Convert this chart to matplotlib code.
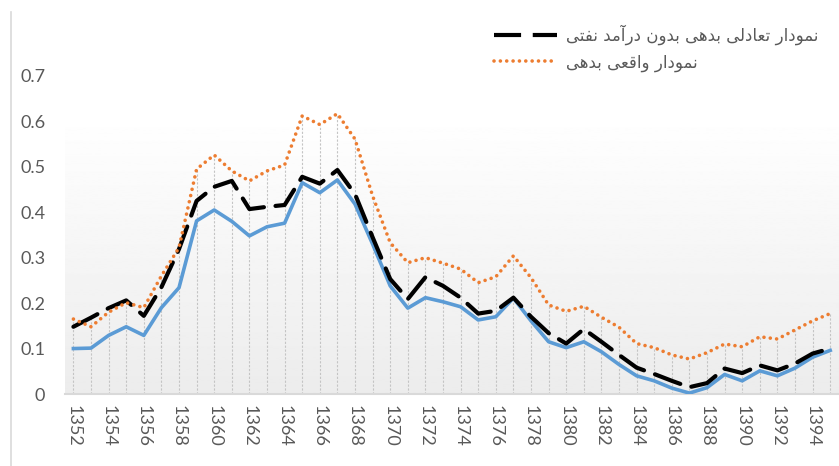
"""Debt ratio chart: actual vs. equilibrium debt without oil revenue."""

import matplotlib

matplotlib.use("Agg")
import matplotlib.pyplot as plt
import numpy as np
from matplotlib.lines import Line2D

years = list(range(1352, 1396))
tick_years = years[::2]

# unlabeled blue series
base_debt = [
    0.100, 0.101, 0.129, 0.148, 0.129, 0.190, 0.234, 0.381, 0.405, 0.380,
    0.348, 0.368, 0.376, 0.465, 0.443, 0.471, 0.418, 0.330, 0.238, 0.189,
    0.212, 0.203, 0.192, 0.163, 0.170, 0.211, 0.161, 0.115, 0.102, 0.115,
    0.093, 0.065, 0.040, 0.029, 0.013, 0.002, 0.014, 0.043, 0.029, 0.051,
    0.040, 0.057, 0.081, 0.096,
]
equilibrium_debt = [
    0.148, 0.168, 0.189, 0.206, 0.172, 0.235, 0.319, 0.425, 0.456, 0.469,
    0.407, 0.412, 0.416, 0.478, 0.463, 0.493, 0.440, 0.345, 0.253, 0.209,
    0.257, 0.238, 0.212, 0.177, 0.183, 0.212, 0.170, 0.134, 0.111, 0.143,
    0.115, 0.086, 0.058, 0.044, 0.029, 0.015, 0.024, 0.056, 0.046, 0.063,
    0.052, 0.067, 0.089, 0.100,
]
actual_debt = [
    0.165, 0.148, 0.180, 0.201, 0.190, 0.260, 0.322, 0.495, 0.526, 0.491,
    0.469, 0.491, 0.504, 0.612, 0.593, 0.617, 0.561, 0.436, 0.333, 0.289,
    0.300, 0.288, 0.275, 0.245, 0.258, 0.304, 0.256, 0.196, 0.182, 0.193,
    0.169, 0.147, 0.111, 0.102, 0.086, 0.077, 0.091, 0.110, 0.104, 0.126,
    0.121, 0.141, 0.161, 0.177,
]

label_equilibrium = "نمودار تعادلی بدهی بدون درآمد نفتی"
label_actual = "نمودار واقعی بدهی"

# Arabic presentation forms: (isolated, final, initial, medial)
FORMS = {
    "\u0622": ("\uFE81", "\uFE82", None, None),
    "\u0627": ("\uFE8D", "\uFE8E", None, None),
    "\u0628": ("\uFE8F", "\uFE90", "\uFE91", "\uFE92"),
    "\u062A": ("\uFE95", "\uFE96", "\uFE97", "\uFE98"),
    "\u062F": ("\uFEA9", "\uFEAA", None, None),
    "\u0631": ("\uFEAD", "\uFEAE", None, None),
    "\u0639": ("\uFEC9", "\uFECA", "\uFECB", "\uFECC"),
    "\u0641": ("\uFED1", "\uFED2", "\uFED3", "\uFED4"),
    "\u0642": ("\uFED5", "\uFED6", "\uFED7", "\uFED8"),
    "\u0644": ("\uFEDD", "\uFEDE", "\uFEDF", "\uFEE0"),
    "\u0645": ("\uFEE1", "\uFEE2", "\uFEE3", "\uFEE4"),
    "\u0646": ("\uFEE5", "\uFEE6", "\uFEE7", "\uFEE8"),
    "\u0647": ("\uFEE9", "\uFEEA", "\uFEEB", "\uFEEC"),
    "\u0648": ("\uFEED", "\uFEEE", None, None),
    "\u06CC": ("\uFBFC", "\uFBFD", "\uFBFE", "\uFBFF"),
}


def shape_rtl(text: str) -> str:
    """Join Persian letters into contextual forms and reverse for LTR drawing."""
    out = []
    for i, ch in enumerate(text):
        if ch not in FORMS:
            out.append(ch)
            continue
        iso, fin, ini, med = FORMS[ch]
        prev = text[i - 1] if i > 0 else ""
        nxt = text[i + 1] if i + 1 < len(text) else ""
        join_prev = prev in FORMS and FORMS[prev][2] is not None
        join_next = ini is not None and nxt in FORMS
        if join_prev and join_next:
            out.append(med)
        elif join_prev:
            out.append(fin)
        elif join_next:
            out.append(ini)
        else:
            out.append(iso)
    return "".join(reversed(out))


fig = plt.figure(figsize=(8.39, 4.66), dpi=100)
ax = fig.add_axes([0.077, 0.1545, 0.923, 0.6825])

# plot-area gradient, white at top to light gray at the axis
grad = np.linspace(1.0, 0.925, 256).reshape(-1, 1)
ax.imshow(
    grad, cmap="gray", vmin=0, vmax=1, aspect="auto",
    extent=[years[0] - 0.5, years[-1] + 0.5, 0, 0.62], zorder=0,
)

tops = np.max([base_debt, equilibrium_debt, actual_debt], axis=0)
ax.vlines(years, 0, tops, color="#c4c4c4", lw=0.8,
          linestyles=(0, (2, 1.5)), zorder=1)

ax.plot(years, base_debt, color="#5B9BD5", lw=2.6, zorder=3)
ax.plot(years, equilibrium_debt, color="black", lw=3.0,
        dashes=(6.5, 2.8), solid_capstyle="round", dash_capstyle="round",
        zorder=4)
ax.plot(years, actual_debt, color="#ED7D31", lw=2.6,
        dashes=(0.01, 1.75), dash_capstyle="round", zorder=5)

ax.set_xlim(years[0] - 0.5, years[-1] + 0.5)
ax.set_ylim(0, 0.7)
ax.set_xticks(tick_years)
ax.set_xticklabels([str(y) for y in tick_years], rotation=-90,
                   fontsize=13, color="#595959", family="Lato")
ax.set_yticks(np.arange(0, 0.71, 0.1))
ax.set_yticklabels(["0"] + [f"{v:.1f}" for v in np.arange(0.1, 0.71, 0.1)],
                   fontsize=13, color="#595959", family="Lato")
ax.tick_params(axis="both", length=0, pad=8)
ax.tick_params(axis="y", pad=14)
for side in ("left", "right", "top"):
    ax.spines[side].set_visible(False)
ax.spines["bottom"].set_color("#d9d9d9")
ax.spines["bottom"].set_linewidth(1.5)

handles = [
    Line2D([], [], color="black", lw=3.0, dashes=(6.5, 2.8)),
    Line2D([], [], color="#ED7D31", lw=2.6, dashes=(0.01, 1.75),
           dash_capstyle="round"),
]
fig.legend(
    handles, [shape_rtl(label_equilibrium), shape_rtl(label_actual)],
    loc="upper right", bbox_to_anchor=(0.993, 0.98), frameon=False,
    prop={"family": "DejaVu Sans", "size": 12}, labelcolor="#595959",
    handlelength=3.8, handletextpad=0.5, labelspacing=0.5,
)

# chart border on the left
fig.add_artist(Line2D([0.013, 0.013], [0.0, 0.975], color="#d9d9d9", lw=1.2,
                      transform=fig.transFigure))

fig.savefig("out.png", dpi=100)
